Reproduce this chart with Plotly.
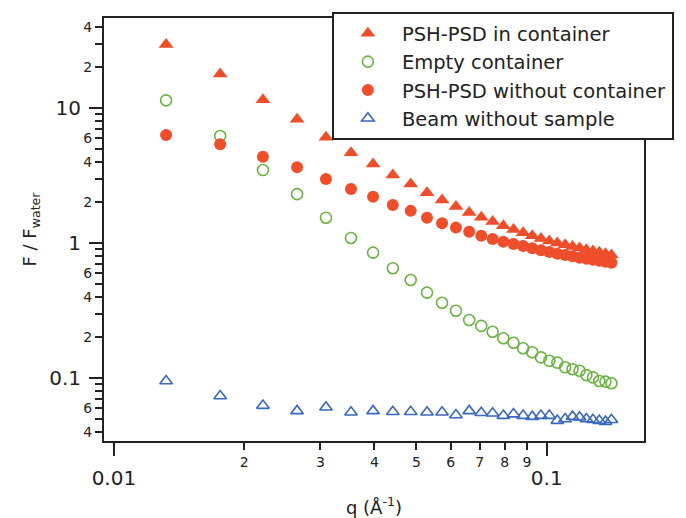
import plotly.graph_objects as go

# q values (Å^-1)
q = [0.0132, 0.0176, 0.0221, 0.0265, 0.0309, 0.0353, 0.0397, 0.0441, 0.0485, 0.0529,
     0.0573, 0.0617, 0.0662, 0.0706, 0.0750, 0.0794, 0.0838, 0.0882, 0.0926, 0.0970,
     0.1014, 0.1058, 0.1103, 0.1147, 0.1191, 0.1235, 0.1279, 0.1323, 0.1367, 0.1411]

psh_in_container = [29.5, 17.9, 11.5, 8.25, 6.07, 4.67, 3.85, 3.19, 2.74, 2.36,
                    2.08, 1.86, 1.68, 1.55, 1.44, 1.34, 1.26, 1.19, 1.13, 1.08,
                    1.035, 1.00, 0.972, 0.944, 0.918, 0.892, 0.872, 0.853, 0.834, 0.815]

empty_container = [11.4, 6.21, 3.47, 2.30, 1.54, 1.09, 0.848, 0.65, 0.532, 0.429,
                   0.361, 0.315, 0.269, 0.243, 0.220, 0.197, 0.1825, 0.166, 0.155, 0.142,
                   0.134, 0.130, 0.120, 0.116, 0.113, 0.105, 0.101, 0.095, 0.094, 0.0914]

psh_without_container = [6.31, 5.38, 4.36, 3.64, 2.98, 2.51, 2.20, 1.91, 1.73, 1.54,
                         1.40, 1.30, 1.21, 1.13, 1.07, 1.02, 0.984, 0.95, 0.914, 0.883,
                         0.858, 0.834, 0.815, 0.796, 0.778, 0.765, 0.752, 0.739, 0.727, 0.714]

beam_without_sample = [0.095, 0.0735, 0.0624, 0.057, 0.0607, 0.0557, 0.057, 0.0562, 0.0562, 0.0557,
                       0.0557, 0.0532, 0.057, 0.0553, 0.0548, 0.0526, 0.054, 0.0526, 0.0517, 0.0526,
                       0.0526, 0.0483, 0.0497, 0.0517, 0.0512, 0.0497, 0.049, 0.0483, 0.0475, 0.049]

series_names = ["PSH-PSD in container", "Empty container",
                "PSH-PSD without container", "Beam without sample"]

# tick definitions
x_minor_labeled = [0.02, 0.03, 0.04, 0.05, 0.06, 0.07, 0.08, 0.09]
x_minor_text = ["2", "3", "4", "5", "6", "7", "8", "9"]
x_major = [0.01, 0.1]
x_major_text = ["0.01", "0.1"]

y_minor_labeled = [0.04, 0.06, 0.2, 0.4, 0.6, 2, 4, 6, 20, 40]
y_minor_text = ["4", "6", "2", "4", "6", "2", "4", "6", "2", "4"]
y_minor_unlabeled = [0.05, 0.07, 0.08, 0.09, 0.3, 0.5, 0.7, 0.8, 0.9,
                     3, 5, 7, 8, 9, 30]
y_major = [0.1, 1, 10]
y_major_text = ["0.1", "1", "10"]

RED = "#EF4E2B"
GREEN = "#6BB244"
BLUE = "#3A67BF"
INK = "#222222"
FONT = "DejaVu Sans"

fig = go.Figure()
fig.add_trace(go.Scatter(x=q, y=psh_in_container, mode="markers", name=series_names[0],
                         marker=dict(symbol="triangle-up", size=13, color=RED)))
fig.add_trace(go.Scatter(x=q, y=empty_container, mode="markers", name=series_names[1],
                         marker=dict(symbol="circle-open", size=11, color=GREEN,
                                     line=dict(width=1.6, color=GREEN))))
fig.add_trace(go.Scatter(x=q, y=psh_without_container, mode="markers", name=series_names[2],
                         marker=dict(symbol="circle", size=12, color=RED)))
fig.add_trace(go.Scatter(x=q, y=beam_without_sample, mode="markers", name=series_names[3],
                         marker=dict(symbol="triangle-up-open", size=11, color=BLUE,
                                     line=dict(width=1.6, color=BLUE))))
# invisible helper traces that activate the overlay axes carrying the decade ticks
fig.add_trace(go.Scatter(x=[0.05], y=[1], xaxis="x2", yaxis="y", mode="markers",
                         marker=dict(opacity=0), showlegend=False, hoverinfo="skip"))
fig.add_trace(go.Scatter(x=[0.05], y=[1], xaxis="x", yaxis="y2", mode="markers",
                         marker=dict(opacity=0), showlegend=False, hoverinfo="skip"))

xr = [-2.0229, -0.7752]
yr = [-1.467, 1.667]

fig.update_layout(
    width=686, height=518,
    margin=dict(l=104, r=38, t=18, b=77),
    paper_bgcolor="white", plot_bgcolor="white",
    font=dict(family=FONT, color=INK),
    showlegend=True,
    legend=dict(x=0.422, y=1.014, xanchor="left", yanchor="top",
                bgcolor="white", bordercolor=INK, borderwidth=2,
                font=dict(family=FONT, size=19.5, color=INK),
                itemwidth=58, tracegroupgap=0),
    xaxis=dict(type="log", range=xr, showgrid=False, zeroline=False, automargin=False,
               showline=True, linecolor=INK, linewidth=2, mirror=True,
               ticks="outside", ticklen=7, tickwidth=2, tickcolor=INK,
               tickmode="array", tickvals=x_minor_labeled, ticktext=x_minor_text,
               tickfont=dict(size=14, family=FONT, color=INK),
               title=dict(text="q (Å<sup>-1</sup>)", font=dict(size=18, family=FONT, color=INK),
                          standoff=38)),
    xaxis2=dict(type="log", range=xr, overlaying="x", anchor="y", side="bottom",
                showgrid=False, zeroline=False, showline=False, automargin=False,
                ticks="outside", ticklen=14, tickwidth=2, tickcolor=INK,
                ticklabelstandoff=5,
                tickmode="array", tickvals=x_major, ticktext=x_major_text,
                tickfont=dict(size=20, family=FONT, color=INK)),
    yaxis=dict(type="log", range=yr, showgrid=False, zeroline=False, automargin=False,
               showline=True, linecolor=INK, linewidth=2, mirror=True,
               ticks="outside", ticklen=7, tickwidth=2, tickcolor=INK,
               tickmode="array", tickvals=y_minor_labeled, ticktext=y_minor_text,
               tickfont=dict(size=14, family=FONT, color=INK),
               minor=dict(tickmode="array", tickvals=y_minor_unlabeled, ticks="outside",
                          ticklen=7, tickwidth=2, tickcolor=INK, showgrid=False),
               title=dict(text="F / F<sub>water</sub>", font=dict(size=18, family=FONT, color=INK),
                          standoff=42)),
    yaxis2=dict(type="log", range=yr, overlaying="y", anchor="x", side="left",
                showgrid=False, zeroline=False, showline=False, automargin=False,
                ticks="outside", ticklen=14, tickwidth=2, tickcolor=INK,
                ticklabelstandoff=4,
                tickmode="array", tickvals=y_major, ticktext=y_major_text,
                tickfont=dict(size=20, family=FONT, color=INK)),
)

fig.write_html("out.html", config={"displayModeBar": False},
               post_script="document.body.style.margin='0px';")
